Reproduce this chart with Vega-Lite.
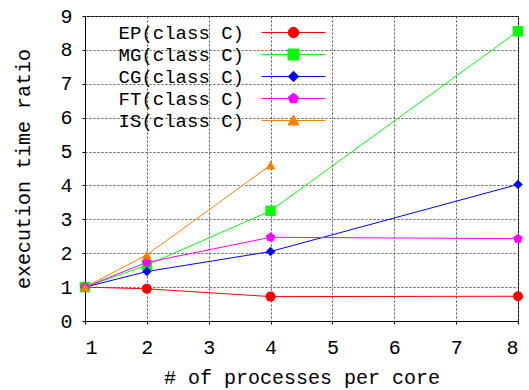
{
  "$schema": "https://vega.github.io/schema/vega-lite/v6.json",
  "width": 433,
  "height": 305,
  "autosize": {"type": "none"},
  "padding": {"left": 85, "top": 16, "right": 11, "bottom": 69},
  "background": "white",
  "config": {
    "font": "Liberation Mono",
    "view": {"stroke": "black", "strokeWidth": 1},
    "axis": {
      "labelFont": "Liberation Mono",
      "titleFont": "Liberation Mono",
      "labelFontSize": 20,
      "titleFontSize": 20,
      "labelColor": "black",
      "titleColor": "black",
      "titleFontWeight": "normal",
      "domainColor": "black",
      "tickColor": "black",
      "tickSize": 3,
      "grid": true,
      "gridColor": "#555555",
      "gridDash": [2, 2],
      "gridOpacity": 1,
      "gridWidth": 1
    }
  },
  "data": {
    "values": [
      {"procs": 1, "ratio": 1.0, "bench": "EP(class C)"},
      {"procs": 2, "ratio": 0.95, "bench": "EP(class C)"},
      {"procs": 4, "ratio": 0.72, "bench": "EP(class C)"},
      {"procs": 8, "ratio": 0.73, "bench": "EP(class C)"},
      {"procs": 1, "ratio": 1.0, "bench": "MG(class C)"},
      {"procs": 2, "ratio": 1.65, "bench": "MG(class C)"},
      {"procs": 4, "ratio": 3.25, "bench": "MG(class C)"},
      {"procs": 8, "ratio": 8.55, "bench": "MG(class C)"},
      {"procs": 1, "ratio": 1.0, "bench": "CG(class C)"},
      {"procs": 2, "ratio": 1.46, "bench": "CG(class C)"},
      {"procs": 4, "ratio": 2.05, "bench": "CG(class C)"},
      {"procs": 8, "ratio": 4.03, "bench": "CG(class C)"},
      {"procs": 1, "ratio": 1.0, "bench": "FT(class C)"},
      {"procs": 2, "ratio": 1.73, "bench": "FT(class C)"},
      {"procs": 4, "ratio": 2.47, "bench": "FT(class C)"},
      {"procs": 8, "ratio": 2.43, "bench": "FT(class C)"},
      {"procs": 1, "ratio": 1.0, "bench": "IS(class C)"},
      {"procs": 2, "ratio": 1.95, "bench": "IS(class C)"},
      {"procs": 4, "ratio": 4.6, "bench": "IS(class C)"}
    ]
  },
  "encoding": {
    "x": {
      "field": "procs", "type": "quantitative",
      "scale": {"domain": [1, 8], "nice": false, "zero": false},
      "axis": {"values": [1, 2, 3, 4, 5, 6, 7, 8], "grid": true, "title": "# of processes per core", "labelPadding": 13, "titlePadding": 10, "format": "d"}
    },
    "y": {
      "field": "ratio", "type": "quantitative",
      "scale": {"domain": [0, 9], "nice": false},
      "axis": {"values": [0, 1, 2, 3, 4, 5, 6, 7, 8, 9], "grid": true, "title": "execution time ratio", "labelPadding": 10, "titlePadding": 26, "format": "d"}
    },
    "color": {
      "field": "bench", "type": "nominal",
      "scale": {
        "domain": ["EP(class C)", "MG(class C)", "CG(class C)", "FT(class C)", "IS(class C)"],
        "range": ["#ff0000", "#00ff00", "#0000ff", "#ff00ff", "#ff8000"]
      },
      "legend": {
        "title": null,
        "orient": "none",
        "legendX": 199,
        "legendY": 7,
        "symbolSize": 100,
        "symbolStrokeWidth": 1,
        "labelAlign": "right",
        "labelOffset": -59,
        "labelFont": "Liberation Mono",
        "labelFontSize": 19,
        "labelColor": "black",
        "rowPadding": 2,
        "symbolOpacity": 1
      }
    }
  },
  "layer": [
    {"mark": {"type": "line", "strokeWidth": 1, "clip": false}},
    {
      "transform": [{"filter": {"field": "bench", "equal": "EP(class C)"}}],
      "mark": {"type": "point", "shape": "circle", "filled": true, "size": 100, "opacity": 1, "clip": false}
    },
    {
      "transform": [{"filter": {"field": "bench", "equal": "MG(class C)"}}],
      "mark": {"type": "point", "shape": "square", "filled": true, "size": 110, "opacity": 1, "clip": false}
    },
    {
      "transform": [{"filter": {"field": "bench", "equal": "CG(class C)"}}],
      "mark": {"type": "point", "shape": "diamond", "filled": true, "size": 90, "opacity": 1, "clip": false}
    },
    {
      "transform": [{"filter": {"field": "bench", "equal": "FT(class C)"}}],
      "mark": {"type": "point", "shape": "M0,-1L0.951,-0.309L0.588,0.809L-0.588,0.809L-0.951,-0.309Z", "filled": true, "size": 100, "opacity": 1, "clip": false}
    },
    {
      "transform": [{"filter": {"field": "bench", "equal": "IS(class C)"}}],
      "mark": {"type": "point", "shape": "triangle-up", "filled": true, "size": 100, "opacity": 1, "clip": false}
    },
    {
      "transform": [{"filter": {"field": "bench", "equal": "none"}}],
      "mark": {"type": "point", "filled": true, "size": 100, "opacity": 1, "clip": false},
      "encoding": {
        "shape": {
          "field": "bench", "type": "nominal",
          "scale": {
            "domain": ["EP(class C)", "MG(class C)", "CG(class C)", "FT(class C)", "IS(class C)"],
            "range": [
              "M-6.4,0H6.4M-1.05,0A1.05,1.05 0 1,0 1.05,0A1.05,1.05 0 1,0 -1.05,0Z",
              "M-6.4,0H6.4M-1.1,-1.1H1.1V1.1H-1.1Z",
              "M-6.4,0H6.4M0,-1.05L1.05,0L0,1.05L-1.05,0Z",
              "M-6.4,0H6.4M0,-1.05L1,-0.32L0.62,0.85L-0.62,0.85L-1,-0.32Z",
              "M-6.4,0H6.4M0,-1.1L1.1,0.9L-1.1,0.9Z"
            ]
          }
        }
      }
    }
  ]
}
